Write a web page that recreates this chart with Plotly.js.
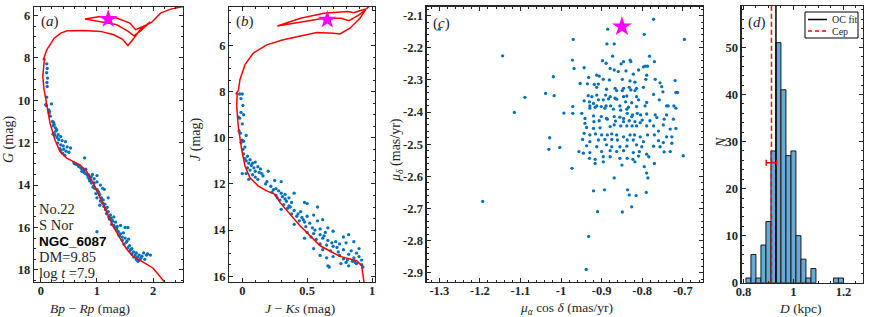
<!DOCTYPE html>
<html><head><meta charset="utf-8">
<script src="https://cdn.plot.ly/plotly-3.0.1.min.js"></script>
<style>html,body{margin:0;padding:0;background:#fff}#chart{width:872px;height:317px}</style>
</head><body><div id="chart"></div>
<script>
// ---------- Panel (a): Gaia CMD ----------
const isoA_bprp = [2.21,2.0,1.8,1.645,1.527,1.409,1.29,1.17,1.053,0.935,0.817,0.698,0.58,0.462,0.343,0.254,0.165,0.107,0.059,0.036,0.046,0.062,0.075,0.04,0.065,0.107,0.24,0.355,0.47,0.77,1.066,1.30,1.45,1.55,1.657,1.776,1.95,1.764,1.657,1.556,1.35,1.05,0.787,1.053,1.35,1.586,1.687,1.88,1.97,2.13,2.31,2.49,2.6];
const isoA_g    = [18.6,17.92,17.6,17.37,17.02,16.5,15.96,15.25,14.54,13.91,13.36,13.05,12.89,12.73,12.42,11.87,11.08,10.29,9.5,8.88,8.41,8.15,8.05,8.08,7.95,7.62,7.07,6.83,6.72,6.71,6.75,6.91,7.11,7.42,7.07,6.64,6.3,6.75,6.96,6.75,6.43,6.28,6.17,6.05,6.12,6.36,6.67,6.44,6.33,5.89,5.70,5.6,5.55];
const memA_bprp = [0.107,0.115,0.105,0.12,0.11,0.115,0.107,0.089,0.10,0.19,0.14,0.155,0.15,0.17,0.21,0.23,0.24,0.22,0.26,0.284,0.236,0.22,0.25,0.29,0.355,0.32,0.38,0.44,0.30,0.355,0.40,0.47,0.53,0.41,0.36,0.45,0.50,0.39,0.78,0.59,0.62,0.64,0.67,0.70,0.72,0.74,0.765,0.80,0.77,0.79,0.82,0.85,0.92,1.0,0.90,0.86,0.88,0.95,0.90,0.95,1.0,1.06,0.94,0.96,1.0,1.10,1.13,1.02,0.98,1.05,1.0,1.08,1.20,1.06,1.10,1.14,1.05,1.12,1.18,1.15,1.20,1.17,1.24,1.21,1.25,1.30,1.22,1.28,1.33,1.26,1.30,1.42,1.36,1.32,1.35,1.0,1.50,1.55,1.38,1.42,1.47,1.40,1.45,1.50,1.56,1.45,1.52,1.48,1.58,1.55,1.62,1.58,1.65,1.70,1.62,1.68,1.75,1.80,1.72,1.78,1.85,1.83,1.88,1.90,1.75,1.70,1.95,0.27,0.31,0.34,0.43,0.60,0.68,0.73,0.84,0.87,0.93,1.03,1.11,1.16,1.27,1.35,1.39,1.53,1.60,1.66,1.73];
const memA_g    = [8.28,8.5,8.7,8.95,9.16,9.35,9.85,10.21,10.25,10.17,10.45,10.52,10.6,10.75,11.0,11.05,11.15,11.2,11.3,11.39,11.55,11.6,11.65,11.75,11.71,11.85,11.9,11.95,12.02,12.1,12.15,12.2,12.25,12.3,12.36,12.4,12.45,12.5,12.72,12.95,13.0,13.03,13.1,13.15,13.2,13.28,13.3,13.25,13.4,13.45,13.5,13.52,13.5,13.55,13.6,13.7,13.75,13.7,13.9,13.9,13.85,14.0,14.05,14.15,14.2,14.15,14.2,14.3,14.4,14.45,14.6,14.6,14.6,14.75,14.85,14.9,14.95,15.0,15.05,15.15,15.25,15.35,15.4,15.5,15.55,15.5,15.6,15.7,15.75,15.85,15.9,15.9,15.95,16.0,16.1,16.2,16.0,16.0,16.2,16.3,16.25,16.4,16.45,16.5,16.55,16.6,16.7,16.8,16.85,16.95,17.0,17.1,17.15,17.2,17.25,17.3,17.3,17.35,17.4,17.45,17.5,17.2,17.3,17.25,17.55,17.52,17.3,11.45,11.62,12.28,12.6,12.98,13.12,13.35,13.62,13.8,14.1,14.35,14.7,15.1,15.65,16.05,16.35,16.65,17.05,17.4,17.6];
const starA = {bprp: 1.20, g: 6.17};

// ---------- Panel (b): 2MASS CMD ----------
const isoB_jks = [0.938,0.933,0.92,0.882,0.753,0.60,0.445,0.29,0.252,0.188,0.124,0.059,0.021,-0.005,-0.031,-0.043,-0.039,-0.05,-0.03,-0.018,0.021,0.085,0.188,0.316,0.445,0.574,0.702,0.753,0.83,0.907,0.95,0.90,0.823,0.76,0.63,0.45,0.27,0.45,0.63,0.81,0.86,0.90,0.96,1.0,1.03];
const isoB_j   = [16.25,16.1,15.54,15.33,15.14,14.68,13.81,12.8,12.45,12.3,12.09,11.73,11.22,10.5,9.5,8.63,8.06,8.1,7.95,7.48,6.83,6.33,5.97,5.75,5.58,5.44,5.47,5.5,5.25,4.82,4.45,4.67,4.92,4.82,4.82,4.99,5.15,4.82,4.6,4.53,4.58,4.5,4.4,4.17,3.9];
const memB_jks = [-0.02,0.0,-0.01,0.005,-0.01,0.01,-0.03,-0.02,0.0,-0.025,-0.015,0.03,0.0,0.01,-0.01,0.02,0.005,0.01,0.04,0.02,0.03,0.06,0.05,0.08,0.10,0.07,0.04,0.09,0.12,0.06,0.10,0.13,0.0,0.03,0.08,0.15,0.20,0.10,0.05,0.12,0.25,0.30,0.18,0.22,0.26,0.28,0.23,0.30,0.33,0.40,0.26,0.31,0.36,0.29,0.34,0.38,0.32,0.36,0.48,0.50,0.30,0.35,0.40,0.45,0.58,0.38,0.42,0.46,0.50,0.55,0.44,0.48,0.52,0.58,0.62,0.40,0.49,0.54,0.60,0.66,0.50,0.55,0.60,0.64,0.70,0.48,0.53,0.57,0.62,0.66,0.72,0.78,0.82,0.60,0.65,0.70,0.75,0.80,0.86,0.90,0.55,0.62,0.68,0.74,0.78,0.84,0.88,0.82,0.75,0.70,0.65,0.60,0.78,0.86,0.90,0.92,0.85,0.80,0.76,0.88,0.92,0.66,0.67,0.82,0.93,0.14,0.16,0.19,0.24,0.27,0.33,0.37,0.43,0.47,0.56,0.63,0.69,0.73,0.81,0.87];
const memB_j   = [8.1,8.1,8.3,8.6,8.9,9.0,9.1,9.15,9.4,9.7,9.8,9.9,10.1,10.15,10.2,10.4,10.5,10.7,10.8,10.9,11.0,10.95,11.1,11.1,11.05,11.2,11.3,11.3,11.25,11.4,11.45,11.5,11.55,11.55,11.6,11.55,11.45,11.7,11.8,11.8,11.85,11.9,12.0,12.1,12.2,12.3,12.35,12.4,12.45,12.4,12.5,12.55,12.6,12.7,12.75,12.8,12.9,12.95,12.8,12.85,13.1,13.05,13.15,13.2,13.0,13.3,13.4,13.45,13.4,13.35,13.6,13.65,13.7,13.6,13.55,13.75,13.85,13.9,13.95,13.9,14.1,14.15,14.2,14.1,14.05,14.35,14.3,14.4,14.35,14.45,14.5,14.3,14.2,14.6,14.65,14.7,14.6,14.55,14.5,14.8,14.8,14.85,14.9,14.95,14.85,14.9,15.0,15.05,15.1,15.15,15.2,15.1,15.25,15.2,15.15,15.3,15.35,15.4,15.45,15.45,15.5,15.55,15.6,15.55,15.6,11.35,11.65,11.9,12.25,12.6,12.65,13.0,13.3,13.55,14.0,14.25,14.55,14.75,15.3,15.4];
const starB = {jks: 0.655, j: 4.88};

// ---------- Panel (c): proper motions ----------
const pmra  = [-1.30,-1.144,-1.115,-1.089,-1.038,-1.017,-1.019,-1.028,-1.030,-1.003,-0.993,-1.193,-0.932,-0.938,-0.970,-0.972,-0.968,-0.971,-0.971,-0.973,
 -0.885,-0.887,-0.869,-0.873,-0.772,-0.795,-0.696,-0.782,
 -0.898,-0.889,-0.852,-0.846,-0.830,-0.828,-0.793,-0.770,
 -0.943,-0.879,-0.869,-0.840,-0.809,-0.797,-0.787,-0.789,-0.822,-0.859,-0.912,-0.906,
 -0.932,-0.896,-0.881,-0.849,-0.791,-0.768,-0.756,-0.719,-0.830,-0.818,-0.935,-0.918,-0.908,-0.953,
 -0.912,-0.888,-0.867,-0.846,-0.832,-0.814,-0.797,-0.752,-0.749,-0.717,-0.713,-0.863,-0.849,-0.828,-0.818,-0.933,-0.924,-0.912,-0.890,-0.879,-0.846,-0.838,-0.814,-0.772,-0.758,
 -0.943,-0.930,-0.920,-0.908,-0.896,-0.883,-0.867,-0.863,-0.841,-0.826,-0.809,-0.789,-0.740,-0.736,-0.722,-0.929,-0.912,-0.901,-0.889,-0.878,-0.855,-0.834,-0.814,-0.793,
 -0.949,-0.929,-0.916,-0.892,-0.871,-0.853,-0.838,-0.837,-0.824,-0.812,-0.804,-0.789,-0.768,-0.740,-0.717,-0.941,-0.920,-0.901,-0.888,-0.869,-0.855,-0.846,-0.826,-0.800,-0.764,
 -0.941,-0.919,-0.906,-0.886,-0.866,-0.846,-0.832,-0.818,-0.805,-0.781,-0.746,-0.723,-0.748,-0.760,-0.937,-0.920,-0.904,-0.879,-0.869,-0.853,-0.838,-0.825,-0.814,-0.789,-0.772,-0.731,-0.717,
 -0.943,-0.929,-0.915,-0.900,-0.886,-0.875,-0.863,-0.846,-0.830,-0.819,-0.805,-0.787,-0.770,-0.740,-0.727,-0.947,-0.929,-0.908,-0.892,-0.875,-0.861,-0.837,-0.822,-0.797,-0.760,-0.748,-0.727,
 -0.937,-0.912,-0.888,-0.875,-0.855,-0.838,-0.814,-0.801,-0.772,-0.756,-0.956,-0.945,-0.929,-0.900,-0.879,-0.863,-0.846,-0.822,-0.807,-0.789,-0.746,-0.731,-0.930,-0.916,-0.896,-0.879,-0.855,-0.837,-0.823,-0.809,-0.784,
 -0.699,-0.916,-0.896,-0.850,-0.818,-0.795,-0.770,-0.786,-0.789,-0.869,-0.920,-0.893,-0.836,-0.832,-0.815,-0.790,-0.910,-0.849,-0.826];
const pmdec = [-2.142,-2.225,-2.401,-2.354,-2.342,-2.349,-2.290,-2.480,-2.516,-2.510,-2.403,-2.678,-2.787,-2.890,-2.174,-2.238,-2.264,-2.383,-2.404,-2.575,
 -2.142,-2.188,-2.188,-2.226,-2.111,-2.158,-2.174,-2.226,
 -2.240,-2.248,-2.250,-2.243,-2.238,-2.243,-2.257,-2.243,
 -2.262,-2.264,-2.269,-2.272,-2.269,-2.259,-2.257,-2.285,-2.282,-2.274,-2.285,-2.288,
 -2.292,-2.298,-2.300,-2.298,-2.298,-2.298,-2.309,-2.302,-2.303,-2.307,-2.312,-2.314,-2.313,-2.311,
 -2.323,-2.329,-2.326,-2.326,-2.323,-2.326,-2.323,-2.321,-2.337,-2.339,-2.339,-2.333,-2.333,-2.331,-2.333,-2.349,-2.352,-2.347,-2.347,-2.352,-2.352,-2.350,-2.352,-2.345,-2.362,
 -2.365,-2.368,-2.373,-2.362,-2.362,-2.359,-2.357,-2.360,-2.368,-2.371,-2.362,-2.370,-2.381,-2.381,-2.381,-2.381,-2.381,-2.383,-2.381,-2.381,-2.381,-2.385,-2.383,-2.381,
 -2.404,-2.388,-2.385,-2.388,-2.391,-2.394,-2.391,-2.404,-2.409,-2.404,-2.409,-2.406,-2.409,-2.409,-2.388,-2.420,-2.412,-2.414,-2.420,-2.414,-2.416,-2.420,-2.414,-2.425,-2.417,
 -2.435,-2.430,-2.427,-2.422,-2.428,-2.430,-2.427,-2.430,-2.433,-2.427,-2.422,-2.422,-2.440,-2.459,-2.448,-2.451,-2.449,-2.445,-2.440,-2.443,-2.443,-2.443,-2.443,-2.443,-2.443,-2.453,-2.451,
 -2.466,-2.471,-2.468,-2.471,-2.471,-2.468,-2.471,-2.477,-2.471,-2.471,-2.477,-2.471,-2.471,-2.477,-2.477,-2.485,-2.492,-2.487,-2.485,-2.485,-2.487,-2.487,-2.487,-2.492,-2.489,-2.495,-2.497,
 -2.505,-2.508,-2.502,-2.508,-2.508,-2.506,-2.502,-2.508,-2.506,-2.508,-2.523,-2.528,-2.526,-2.523,-2.520,-2.523,-2.520,-2.526,-2.523,-2.531,-2.524,-2.523,-2.544,-2.547,-2.539,-2.539,-2.544,-2.544,-2.547,-2.537,-2.539,
 -2.536,-2.560,-2.555,-2.565,-2.555,-2.570,-2.560,-2.605,-2.590,-2.605,-2.645,-2.642,-2.642,-2.658,-2.660,-2.650,-2.710,-2.711,-2.695];
const starC = {pmra: -0.850, pmdec: -2.134};

// ---------- Panel (d): distance histogram ----------
const distBinCenters = [0.82,0.84,0.86,0.88,0.90,0.92,0.94,0.96,0.98,1.00,1.02,1.04,1.06,1.08,1.17,1.19];
const distCounts     = [1,6,1,8,13,28,51,41,27,28,10,5,1,3,1,1];
const distBinWidth = 0.02;
const ocFitDist = 0.93;
const cepDist = 0.912, cepDistErr = 0.021, cepMarkerN = 25.5;

const tickA_x = [0,1,2], tickA_xt = ['0','1','2'];
const tickA_y = [6,8,10,12,14,16,18], tickA_yt = ['6','8','10','12','14','16','18'];
const tickB_x = [0,0.5,1], tickB_xt = ['0','0.5','1'];
const tickB_y = [6,8,10,12,14,16], tickB_yt = ['6','8','10','12','14','16'];
const tickC_x = [-1.3,-1.2,-1.1,-1,-0.9,-0.8,-0.7], tickC_xt = ['-1.3','-1.2','-1.1','-1','-0.9','-0.8','-0.7'];
const tickC_y = [-2.1,-2.2,-2.3,-2.4,-2.5,-2.6,-2.7,-2.8,-2.9], tickC_yt = ['-2.1','-2.2','-2.3','-2.4','-2.5','-2.6','-2.7','-2.8','-2.9'];
const tickD_x = [0.8,1,1.2], tickD_xt = ['0.8','1','1.2'];
const tickD_y = [0,10,20,30,40,50], tickD_yt = ['0','10','20','30','40','50'];

const BLUE = 'rgb(0,114,189)', RED = '#ff0000', MAG = '#ff00ff', AX = '#262626';
const serif = 'Liberation Serif';
const bold = arr => arr.map(s => '<b>' + s + '</b>');

const ms = 3.3;
const traces = [
  {x: memA_bprp, y: memA_g, xaxis:'x', yaxis:'y', mode:'markers', marker:{color:BLUE, size:ms}},
  {x: isoA_bprp, y: isoA_g, xaxis:'x', yaxis:'y', mode:'lines', line:{color:RED, width:1.5}},
  {x:[starA.bprp], y:[starA.g], xaxis:'x', yaxis:'y', mode:'markers', marker:{symbol:'star', color:MAG, size:14, line:{width:0}}},

  {x: memB_jks, y: memB_j, xaxis:'x2', yaxis:'y2', mode:'markers', marker:{color:BLUE, size:ms}},
  {x: isoB_jks, y: isoB_j, xaxis:'x2', yaxis:'y2', mode:'lines', line:{color:RED, width:1.5}},
  {x:[starB.jks], y:[starB.j], xaxis:'x2', yaxis:'y2', mode:'markers', marker:{symbol:'star', color:MAG, size:14, line:{width:0}}},

  {x: pmra, y: pmdec, xaxis:'x3', yaxis:'y3', mode:'markers', marker:{color:BLUE, size:ms}},
  {x:[starC.pmra], y:[starC.pmdec], xaxis:'x3', yaxis:'y3', mode:'markers', marker:{symbol:'star', color:MAG, size:15, line:{width:0}}},

  {x: distBinCenters, y: distCounts, type:'bar', width: distBinWidth, xaxis:'x4', yaxis:'y4',
   marker:{color:'rgb(102,170,215)', line:{color:'#1a1a1a', width:1}}},
  {x:[ocFitDist, ocFitDist], y:[0, 58.8], xaxis:'x4', yaxis:'y4', mode:'lines', line:{color:'#000', width:1.5}},
  {x:[cepDist, cepDist], y:[0, 58.8], xaxis:'x4', yaxis:'y4', mode:'lines', line:{color:RED, width:1.5, dash:'5px,3px'}},
  {x:[cepDist], y:[cepMarkerN], xaxis:'x4', yaxis:'y4', mode:'markers', marker:{color:RED, size:2},
   error_x:{type:'data', array:[cepDistErr], color:RED, thickness:1.5, width:3}}
];

function ax(extra){
  return Object.assign({
    showline:true, linecolor:AX, linewidth:1.3, mirror:'ticks', ticks:'inside', ticklen:4, tickwidth:1, tickcolor:AX,
    showgrid:false, zeroline:false, autorange:false, fixedrange:true,
    tickfont:{family:serif, size:12.5, color:AX},
  }, extra);
}
const W = 872, H = 317;
const px = v => v / W, py = v => 1 - v / H;
const mn = (d, t0) => ({ticks:'inside', ticklen:2, tickwidth:1, tickcolor:AX, dtick:d, tick0:t0, showgrid:false});
const xs = -3;

const layout = {
  width:W, height:H, margin:{l:0,r:0,t:0,b:0}, paper_bgcolor:'#fff', plot_bgcolor:'#fff', showlegend:false,
  font:{family:serif},
  xaxis:  ax({domain:[px(34),px(183)], anchor:'y', range:[-0.12,2.53], tickvals:tickA_x, ticktext:bold(tickA_xt), minor:mn(0.2,0), ticklabelstandoff:xs}),
  yaxis:  ax({domain:[py(282),py(7)], anchor:'x', range:[18.57,5.6], tickvals:tickA_y, ticktext:bold(tickA_yt), minor:mn(0.5,0)}),
  xaxis2: ax({domain:[px(229.3),px(375)], anchor:'y2', range:[-0.1,1.023], tickvals:tickB_x, ticktext:bold(tickB_xt), minor:mn(0.1,0), ticklabelstandoff:xs}),
  yaxis2: ax({domain:[py(282),py(7)], anchor:'x2', range:[16.25,4.33], tickvals:tickB_y, ticktext:bold(tickB_yt), minor:mn(0.5,0)}),
  xaxis3: ax({domain:[px(426.7),px(702.7)], anchor:'y3', range:[-1.331,-0.651], tickvals:tickC_x, ticktext:bold(tickC_xt), minor:mn(0.02,-1.3), ticklabelstandoff:xs}),
  yaxis3: ax({domain:[py(281.7),py(6.7)], anchor:'x3', range:[-2.928,-2.072], tickvals:tickC_y, ticktext:bold(tickC_yt), minor:mn(0.02,-2.1)}),
  xaxis4: ax({domain:[px(741.7),px(862.7)], anchor:'y4', range:[0.793,1.277], tickvals:tickD_x, ticktext:bold(tickD_xt), minor:mn(0.05,0.8), ticklabelstandoff:xs}),
  yaxis4: ax({domain:[py(282.7),py(6)], anchor:'x4', range:[0,58.8], tickvals:tickD_y, ticktext:bold(tickD_yt), minor:mn(2,0)}),
  bargap:0,
  shapes:[
    {type:'rect', xref:'paper', yref:'paper', x0:px(805), x1:px(858), y0:py(38), y1:py(12), line:{color:'#000', width:1}, fillcolor:'#fff'},
    {type:'line', xref:'paper', yref:'paper', x0:px(808), x1:px(827), y0:py(19.5), y1:py(19.5), line:{color:'#000', width:1.5}},
    {type:'line', xref:'paper', yref:'paper', x0:px(808), x1:px(827), y0:py(31), y1:py(31), line:{color:RED, width:1.5, dash:'4px,3px'}}
  ],
  annotations:[]
};
function ann(text, x, y, opts){
  layout.annotations.push(Object.assign({text, xref:'paper', yref:'paper', x:px(x), y:py(y), showarrow:false,
    font:{family:serif, size:14, color:AX}, xanchor:'center', yanchor:'middle'}, opts||{}));
}
// axis titles
const tFont = {family:serif, size:13.5, color:AX};
ann('<i>Bp</i> − <i>Rp</i> (mag)', 90, 308, {font:tFont});
ann('<i>G</i> (mag)', 9, 140, {textangle:-90});
ann('<i>J</i> − <i>Ks</i> (mag)', 300, 308, {font:tFont});
ann('<i>J</i> (mag)', 196, 140, {textangle:-90});
ann('<i>μ</i><sub><i>α</i></sub> cos <i>δ</i> (mas/yr)', 566, 308, {font:tFont});
ann('<i>μ</i><sub><i>δ</i></sub> (mas/yr)', 397, 150, {textangle:-90});
ann('<i>D</i> (kpc)', 800, 308, {font:tFont});
ann('<i>N</i>', 721, 143, {textangle:-90});
// panel labels
ann('(<i>a</i>)', 50, 21, {font:{family:serif, size:15, color:AX}});
ann('(<i>b</i>)', 245, 21, {font:{family:serif, size:15, color:AX}});
ann('(<i>c</i>)', 441, 24, {font:{family:serif, size:15, color:AX}});
ann('(<i>d</i>)', 757, 22, {font:{family:serif, size:15, color:AX}});
// info text in panel a
const infoFont = {family:serif, size:14.5, color:AX};
ann('No.22', 37, 209, {xanchor:'left', font:infoFont});
ann('S Nor', 37, 225, {xanchor:'left', font:infoFont});
ann('<b>NGC_6087</b>', 37, 241, {xanchor:'left', font:{family:'Liberation Sans', size:13.5, color:'#000'}});
ann('DM=9.85', 37, 257, {xanchor:'left', font:infoFont});
ann('log <i>t</i> =7.9', 37, 272.5, {xanchor:'left', font:infoFont});
// legend text
ann('OC fit', 830, 19.5, {xanchor:'left', font:{family:serif, size:10, color:AX}});
ann('Cep', 830, 31, {xanchor:'left', font:{family:serif, size:10, color:AX}});

Plotly.newPlot('chart', traces, layout, {staticPlot:true, displayModeBar:false});
</script></body></html>
